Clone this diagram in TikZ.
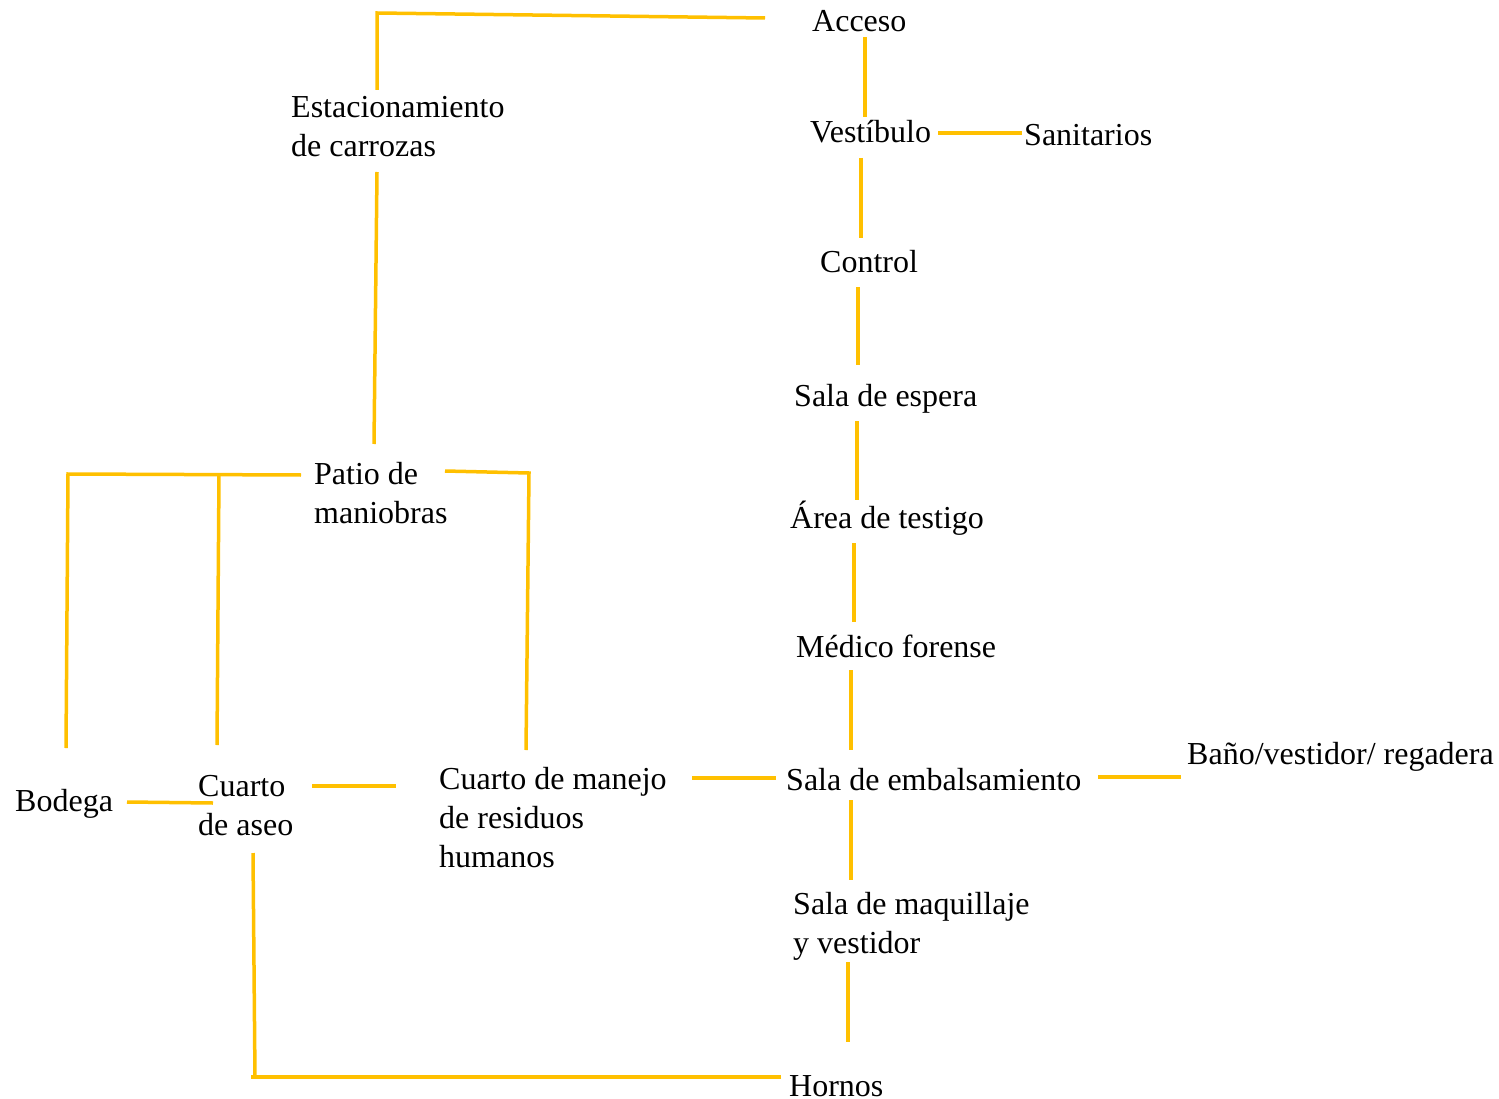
\documentclass[tikz,border=0pt]{standalone}
\usepackage{fontspec}
\setmainfont{Liberation Serif}
\newcommand{\stk}[1]{\vtop{\baselineskip=39pt\lineskiplimit=-100pt\halign{##\hfil\cr#1\crcr}}}
\begin{document}
\begin{tikzpicture}[x=1pt,y=-1pt,
  lbl/.style={anchor=base west,inner sep=0pt,font=\fontsize{32}{39}\selectfont},
  link/.style={draw=linkc,line width=3.5pt}]
\definecolor{linkc}{HTML}{FFC000}
\useasboundingbox (0,0) rectangle (1499,1099);
% labels
\node[lbl] (acc) at (812,32) {Acceso};
\node[lbl] (est) at (291,118) {\stk{Estacionamiento\cr de carrozas}};
\node[lbl] (ves) at (810,143) {Vestíbulo};
\node[lbl] (san) at (1024,146) {Sanitarios};
\node[lbl] (con) at (820,273) {Control};
\node[lbl] (esp) at (794,406) {Sala de espera};
\node[lbl] (tes) at (790,528) {Área de testigo};
\node[lbl] (med) at (796,657) {Médico forense};
\node[lbl] (pat) at (314,484) {\stk{Patio de\cr maniobras}};
\node[lbl] (bod) at (15,811) {Bodega};
\node[lbl] (ase) at (198,796) {\stk{Cuarto\cr de aseo}};
\node[lbl] (res) at (439,789) {\stk{Cuarto de manejo\cr de residuos\cr humanos}};
\node[lbl] (emb) at (786,790) {Sala de embalsamiento};
\node[lbl] (ban) at (1187,764) {Baño/vestidor/ regadera};
\node[lbl] (maq) at (793,914) {\stk{Sala de maquillaje\cr y vestidor}};
\node[lbl] (hor) at (789,1096) {Hornos};
% connector end points
\coordinate (c1) at (377,90);
\coordinate (c2) at (377,13);
\coordinate (c3) at (765,18);
\draw[link,line join=miter] (c1) -- (c2) -- (c3);
\draw[link] (865,37) -- (865,117);
\draw[link] (938,133) -- (1022,133);
\draw[link] (861,158) -- (861,238);
\draw[link] (858,287) -- (858,365);
\draw[link] (857,421) -- (857,500);
\draw[link] (854,543) -- (854,622);
\draw[link] (851,670) -- (851,750);
\draw[link] (1098,777) -- (1181,777);
\draw[link] (851,800) -- (851,880);
\draw[link] (848,962) -- (848,1042);
\draw[link] (781,1077) -- (251,1077);
\draw[link] (255,1078) -- (253,853);
\draw[link] (377,172) -- (374,444);
\draw[link,line join=miter] (301,475) -- (68,474) -- (66,748);
\draw[link] (219,474) -- (217,745);
\draw[link,line join=miter] (445,471) -- (529,473) -- (526,750);
\draw[link] (127,802) -- (213,803);
\draw[link] (312,786) -- (396,786);
\draw[link] (692,778) -- (776,778);
\end{tikzpicture}
\end{document}
